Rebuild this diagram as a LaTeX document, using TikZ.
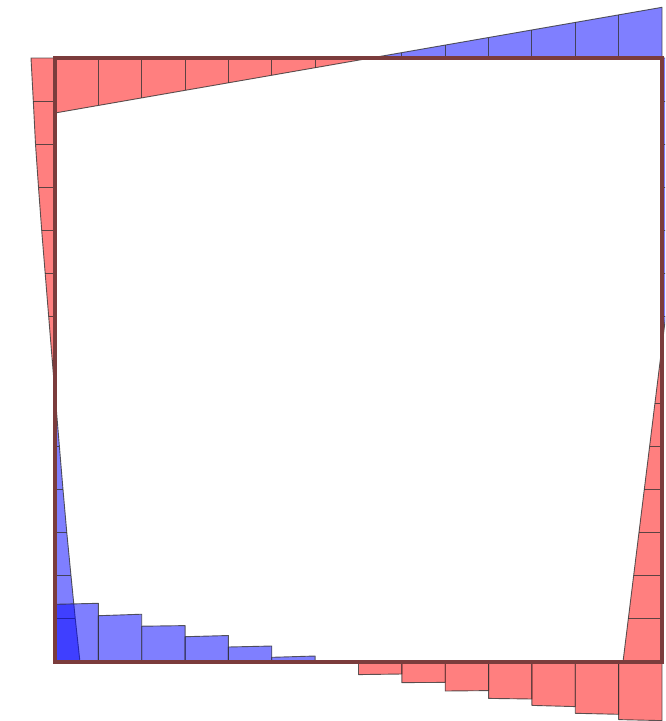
\documentclass[tikz,border=0pt]{standalone}
\begin{document}
\begin{tikzpicture}[x=1pt,y=-1pt,
  redfill/.style={fill=red, fill opacity=0.5, draw=black!80, draw opacity=0.8, line width=0.9pt, line join=round},
  bluefill/.style={fill=blue, fill opacity=0.5, draw=black!80, draw opacity=0.8, line width=0.9pt, line join=round},
  tick/.style={draw=black!80, draw opacity=0.8, line width=0.9pt},
  framestyle/.style={draw={rgb,255:red,123;green,60;blue,60}, line width=4pt, line join=miter}]
\useasboundingbox (0,0) rectangle (665,721);
\clip (0,0) rectangle (665,721);

% ---- top beam ----
\path[redfill] (55,58) -- (55,113) -- (370.85,58) -- cycle;
\path[bluefill] (370.85,58) -- (662,7.3) -- (662,58) -- cycle;
\foreach \x/\y in {98.36/105.45,141.71/97.9,185.07/90.35,228.43/82.8,271.79/75.25,315.14/67.7,358.5/60.15,
                   401.86/52.6,445.21/45.05,488.57/37.5,531.93/29.95,575.29/22.4,618.64/14.85}
  \draw[tick] (\x,58) -- (\x,\y);

% ---- left column ----
\path[redfill] (55,58) -- (31,58) -- (33.3,101.14) -- (35.5,144.29) -- (38.5,187.43) -- (41.7,230.57)
   -- (45.2,273.71) -- (48.7,316.86) -- (52.2,360) -- (55,393.6) -- cycle;
\path[bluefill] (55,393.6) -- (55.8,403.14) -- (59.4,446.29) -- (63,489.43) -- (66.8,532.57)
   -- (71,575.71) -- (75.3,618.86) -- (80,662) -- (55,662) -- cycle;
\foreach \x/\y in {33.3/101.14,35.5/144.29,38.5/187.43,41.7/230.57,45.2/273.71,48.7/316.86,52.2/360,
                   55.8/403.14,59.4/446.29,63/489.43,66.8/532.57,71/575.71,75.3/618.86}
  \draw[tick] (55,\y) -- (\x,\y);

% ---- right column ----
\path[redfill] (662,346) -- (622.97,662) -- (662,662) -- cycle;
\path[bluefill] (662,346) -- (697.6,58) -- (662,58) -- cycle;
\foreach \y in {101.14,144.29,187.43,230.57,273.71,316.86,360,403.14,446.29,489.43,532.57,575.71,618.86}
  \draw[tick] (662,\y) -- ({662-0.1235*(\y-346)},\y);

% ---- bottom beam (stepped) ----
\foreach \a/\b/\l/\r in {55/98.36/57.7/58.7, 98.36/141.71/46.3/47.8, 141.71/185.07/35.8/36.4,
     185.07/228.43/25.3/26.5, 228.43/271.79/15/16, 271.79/315.14/4.7/6}
  \path[bluefill] (\a,662) -- (\a,662-\l) -- (\b,662-\r) -- (\b,662) -- cycle;
\foreach \a/\b/\l/\r in {358.5/401.86/12.6/12, 401.86/445.21/20.6/20.4, 445.21/488.57/29/28.6,
     488.57/531.93/36.4/37, 531.93/575.29/43.4/44.6, 575.29/618.64/51.3/52.3, 618.64/662/57.6/58.6}
  \path[redfill] (\a,662) -- (\a,662+\l) -- (\b,662+\r) -- (\b,662) -- cycle;

% ---- frame ----
\draw[framestyle] (55,58) rectangle (662,662);
\end{tikzpicture}
\end{document}
